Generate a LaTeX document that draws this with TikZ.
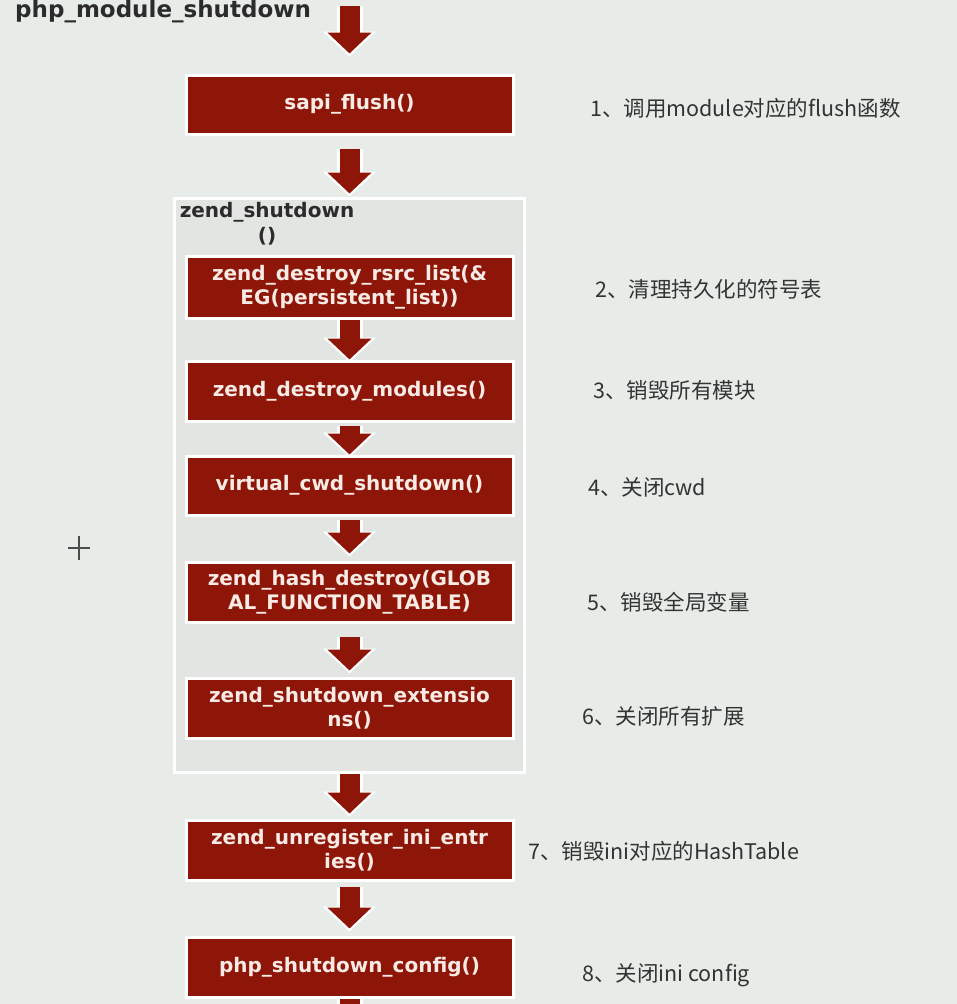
\documentclass[tikz,border=0pt]{standalone}
\usepackage{fontspec}
\setmainfont{DejaVu Sans}
\newfontfamily\cjk{Noto Sans CJK SC}
\usepackage{tikz}
\usetikzlibrary{arrows.meta, positioning}
\usepackage{xcolor}
\definecolor{bgcolor}{HTML}{E8ECE8}
\definecolor{groupgray}{HTML}{E2E5E2}
\definecolor{boxred}{HTML}{8E1608}
\definecolor{boxtext}{HTML}{F8EAE4}
\definecolor{inkgray}{HTML}{2B2B2B}
\definecolor{notegray}{HTML}{333333}

\tikzset{
  funcbox/.style={fill=boxred, draw=white, line width=3pt, minimum width=327pt,
    minimum height=60pt, text=boxtext, align=center, inner sep=0pt,
    font=\fontsize{20}{24}\selectfont\bfseries},
  groupbox/.style={fill=groupgray, draw=white, line width=3pt, inner sep=0pt},
  heading/.style={text=inkgray, inner sep=0pt, font=\fontsize{20}{25}\selectfont\bfseries},
  note/.style={text=notegray, anchor=west, inner sep=0pt, font=\fontsize{21.5}{25}\selectfont\cjk},
  flow/.style={draw=boxred, line width=20pt, -{Triangle[length=21pt, width=43pt]},
    preaction={draw=white, line width=26pt, -{Triangle[length=25pt, width=52pt]},
      shorten >=-3pt}},
  stub/.style={draw=boxred, line width=20pt, preaction={draw=white, line width=26pt}},
}

\begin{document}
\begin{tikzpicture}[x=1pt, y=-1pt]

    %% background / page
    \useasboundingbox (0,0) rectangle (957,1004);
    \fill[bgcolor] (0,0) rectangle (957,1004);

    %% Title
    \node[heading, anchor=west, font=\fontsize{23}{26}\selectfont\bfseries] (title)
      at (15, 11) {php\_module\_shutdown};
    \coordinate (entry) at (349.5, 6);

    %% sapi_flush
    \node[funcbox, minimum height=59pt] (flush) at (349.5, 104.5) {sapi\_flush()};

    %% ═══ zend_shutdown() group ═══
    \node[groupbox, minimum width=350pt, minimum height=574pt] (zend) at (349.5, 485) {};
    \node[heading, align=center, anchor=north] (zendlabel) at (267, 202)
      {zend\_shutdown\\()};

    \node[funcbox, minimum height=62pt] (rsrc) at (349.5, 287)
      {zend\_destroy\_rsrc\_list(\&\\EG(persistent\_list))};
    \node[funcbox] (modules) at (349.5, 391) {zend\_destroy\_modules()};
    \node[funcbox, minimum height=59pt] (cwd) at (349.5, 485.5) {virtual\_cwd\_shutdown()};
    \node[funcbox] (hash) at (349.5, 592)
      {zend\_hash\_destroy(GLOB\\AL\_FUNCTION\_TABLE)};
    \node[funcbox] (ext) at (349.5, 708)
      {zend\_shutdown\_extensio\\ns()};

    %% after the group
    \node[funcbox] (unreg) at (349.5, 850)
      {zend\_unregister\_ini\_entr\\ies()};
    \node[funcbox] (config) at (349.5, 967) {php\_shutdown\_config()};
    \coordinate (exit) at (349.5, 1012);

    %% Arrows
    \draw[flow] (entry) -- ([yshift=20pt]flush.north);
    \draw[flow] ([yshift=-13pt]flush.south) -- ([yshift=3pt]zend.north);
    \draw[flow] (rsrc.south) -- (modules.north);
    \draw[flow] ([yshift=-3pt]modules.south) -- (cwd.north);
    \draw[flow] ([yshift=-3pt]cwd.south) -- ([yshift=7pt]hash.north);
    \draw[flow] ([yshift=-13pt]hash.south) -- ([yshift=6pt]ext.north);
    \draw[flow] (zend.south) -- ([yshift=5pt]unreg.north);
    \draw[flow] ([yshift=-5pt]unreg.south) -- ([yshift=7pt]config.north);
    \draw[stub] (config.south) -- (exit);

    %% Notes
    \node[note] (n1) at (590, 108) {1、调用module对应的flush函数};
    \node[note] (n2) at (595, 289) {2、清理持久化的符号表};
    \node[note] (n3) at (593, 390) {3、销毁所有模块};
    \node[note] (n4) at (588, 487) {4、关闭cwd};
    \node[note] (n5) at (587, 602) {5、销毁全局变量};
    \node[note] (n6) at (582, 716) {6、关闭所有扩展};
    \node[note] (n7) at (528, 851) {7、销毁ini对应的HashTable};
    \node[note] (n8) at (582, 975) {8、关闭ini config};

    %% pointer cross
    \draw[gray!60!black, line width=1.6pt] (68, 548) -- (90, 548) (79, 536) -- (79, 560);

\end{tikzpicture}
\end{document}
